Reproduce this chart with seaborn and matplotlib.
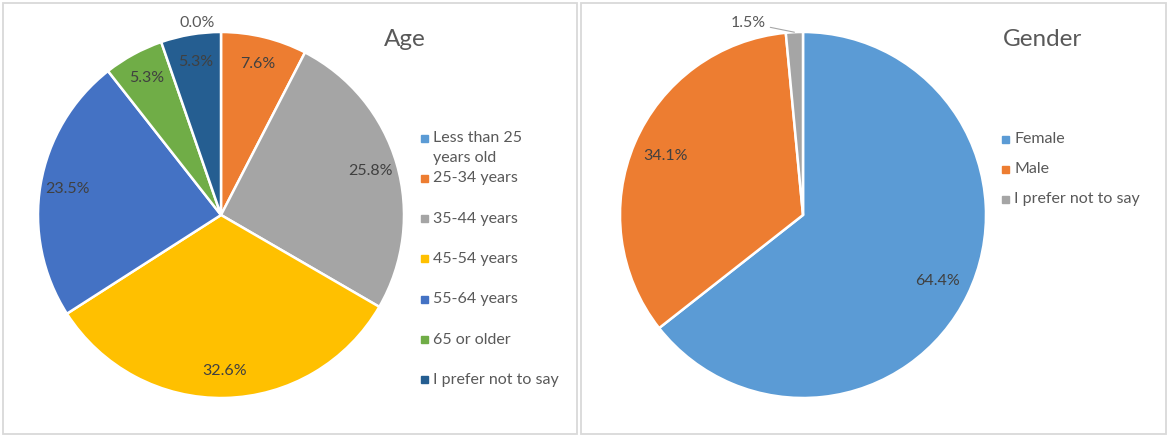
import numpy as np
import seaborn as sns
import matplotlib.pyplot as plt
from matplotlib.patches import Rectangle

# =====================================================
# DATA
# =====================================================
age_labels = ["Less than 25\nyears old", "25-34 years", "35-44 years", "45-54 years",
              "55-64 years", "65 or older", "I prefer not to say"]
age_values = [0.0, 7.6, 25.8, 32.6, 23.5, 5.3, 5.3]
age_colors = ["#5B9BD5", "#ED7D31", "#A5A5A5", "#FFC000", "#4472C4", "#70AD47", "#255E91"]

gender_labels = ["Female", "Male", "I prefer not to say"]
gender_values = [64.4, 34.1, 1.5]
gender_colors = ["#5B9BD5", "#ED7D31", "#A5A5A5"]

# =====================================================
# FIGURE SETUP
# =====================================================
sns.set_theme(style="white")
plt.rcParams["font.family"] = ["Lato", "DejaVu Sans"]

W, H = 1169, 437
fig = plt.figure(figsize=(W / 100, H / 100), dpi=100)
fig.patch.set_facecolor("white")

TEXT = "#404040"
LEG = "#595959"
FS = 11.5


def px(x, y):
    # pixel coords (from top-left) -> figure fraction
    return x / W, 1 - y / H


# panel frames
for x0, x1 in [(3, 577), (581, 1166)]:
    fig.add_artist(Rectangle((x0 / W, 3 / H), (x1 - x0) / W, (H - 6) / H,
                             transform=fig.transFigure, fill=False,
                             edgecolor="#D9D9D9", linewidth=1.3))


def draw_pie(cx, cy, values, colors, dist):
    r = 183
    half = r * 1.05
    ax = fig.add_axes([(cx - half) / W, (H - cy - half) / H, 2 * half / W, 2 * half / H])
    wedges, _ = ax.pie(values, colors=colors, startangle=90, counterclock=False,
                       wedgeprops=dict(edgecolor="white", linewidth=1.8))
    ax.set_xlim(-1.05, 1.05)
    ax.set_ylim(-1.05, 1.05)
    ax.set_aspect("equal")
    ax.axis("off")
    texts = []
    for w, v in zip(wedges, values):
        ang = np.deg2rad((w.theta1 + w.theta2) / 2)
        t = ax.text(dist * np.cos(ang), dist * np.sin(ang), f"{v:.1f}%",
                    ha="center", va="center", color=TEXT, fontsize=FS)
        texts.append(t)
    return ax, wedges, texts


def draw_legend(x, y0, step, labels, colors):
    for i, (lab, col) in enumerate(zip(labels, colors)):
        y = y0 + i * step
        fig.patches.append(Rectangle(px(x - 3.5, y + 3.5), 7 / W, 7 / H,
                                     transform=fig.transFigure, color=col))
        for j, line in enumerate(lab.split("\n")):
            fig.text(*px(x + 9, y + j * 20), line, ha="left", va="center",
                     fontsize=FS, color=LEG)


# =====================================================
# AGE
# =====================================================
ax1, w1, t1 = draw_pie(221, 215, age_values, age_colors, 0.85)
# zero slice label sits outside the pie
t1[0].set_position((-0.13, 1.05))
t1[0].set_color(LEG)
fig.text(*px(405, 40), "Age", ha="center", va="center", fontsize=17.5, color=LEG)
draw_legend(424, 138, 40.3, age_labels, age_colors)

# =====================================================
# GENDER
# =====================================================
ax2, w2, t2 = draw_pie(803, 215, gender_values, gender_colors, 0.82)
t2[2].set_visible(False)
mid = np.deg2rad((w2[2].theta1 + w2[2].theta2) / 2)
ax2.annotate(f"{gender_values[2]:.1f}%", xy=(np.cos(mid), np.sin(mid)),
             xytext=(-0.3, 1.05), ha="center", va="center", fontsize=FS, color=LEG,
             arrowprops=dict(arrowstyle="-", color="#A6A6A6", lw=0.8, shrinkA=1, shrinkB=0))
fig.text(*px(1043, 40), "Gender", ha="center", va="center", fontsize=17.5, color=LEG)
draw_legend(1005, 139, 30.2, gender_labels, gender_colors)

plt.savefig("out.png", dpi=100)
